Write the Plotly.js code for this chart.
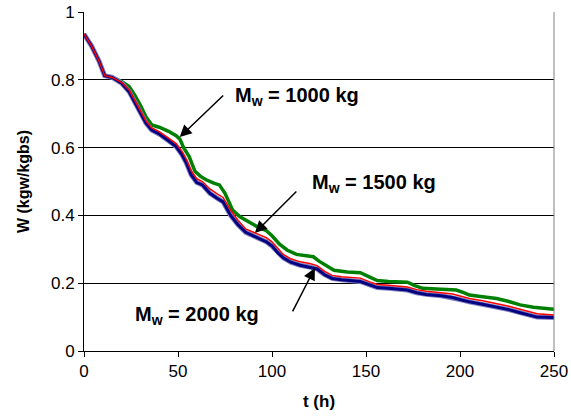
<!DOCTYPE html>
<html>
<head>
<meta charset="utf-8">
<script src="https://cdn.plot.ly/plotly-3.0.1.min.js"></script>
<style>html,body{margin:0;padding:0;background:#fff;}#chart{width:571px;height:417px;}</style>
</head>
<body>
<div id="chart"></div>
<script>
// Time (h) and moisture content W (kgw/kgbs) for three water masses
var tBlue = [0,4,8,11,15,20,24,27,30,33,36,40,45,49,52,54.5,57,60,63,67,71,74,78,82,86,92,97,100,103,106,110,115,120,124,128,132,137,142,147,152,156,162,168,172,177,182,190,196,200,205,212,219,226,232,237,241,250];
var wBlue = [0.935,0.90,0.855,0.812,0.807,0.79,0.765,0.735,0.705,0.672,0.652,0.64,0.62,0.603,0.58,0.554,0.52,0.497,0.49,0.465,0.45,0.44,0.40,0.372,0.35,0.335,0.322,0.31,0.29,0.275,0.262,0.253,0.248,0.242,0.225,0.214,0.21,0.208,0.205,0.195,0.187,0.185,0.183,0.18,0.172,0.167,0.163,0.158,0.152,0.145,0.138,0.131,0.122,0.113,0.105,0.10,0.099];

var tRed = tBlue;
var wRed = [0.935,0.90,0.855,0.812,0.807,0.792,0.77,0.74,0.71,0.678,0.658,0.647,0.628,0.612,0.59,0.565,0.532,0.508,0.50,0.478,0.463,0.453,0.415,0.385,0.36,0.347,0.334,0.322,0.302,0.285,0.272,0.263,0.258,0.252,0.235,0.223,0.219,0.217,0.215,0.204,0.196,0.194,0.192,0.189,0.181,0.176,0.172,0.168,0.162,0.155,0.148,0.141,0.132,0.123,0.115,0.110,0.106];

var tGreen = [0,4,8,11,15,20,24,27,30,33,36,40,45,49,51,53,56,59,62,65,69,72,75,79,83,88,92,97,100,104,108,113,117,122,125,129,133,140,147,152,156,162,168,172,176,180,190,198,202,205,212,219.5,226,232,239,244,250];
var wGreen = [0.935,0.90,0.855,0.812,0.808,0.795,0.78,0.755,0.725,0.69,0.667,0.66,0.648,0.635,0.625,0.60,0.573,0.53,0.515,0.505,0.495,0.49,0.465,0.416,0.396,0.38,0.367,0.355,0.34,0.315,0.298,0.285,0.282,0.278,0.265,0.25,0.238,0.233,0.231,0.218,0.208,0.205,0.204,0.203,0.193,0.185,0.182,0.18,0.172,0.165,0.16,0.155,0.146,0.136,0.129,0.126,0.123];

var xTicks = [0,50,100,150,200,250];
var yTicks = [0,0.2,0.4,0.6,0.8,1];
var yTickText = ['0','0.2','0.4','0.6','0.8','1'];

var labels = ['M<sub>w</sub> = 1000 kg','M<sub>w</sub> = 1500 kg','M<sub>w</sub> = 2000 kg'];

var traces = [
  {x: tGreen, y: wGreen, mode: 'lines', line: {color: '#008000', width: 3.5}, name: labels[0]},
  {x: tBlue, y: wBlue, mode: 'lines', line: {color: '#8080c0', width: 5}, name: 'halo', hoverinfo: 'skip'},
  {x: tBlue, y: wBlue, mode: 'lines', line: {color: '#000080', width: 3}, name: labels[2]},
  {x: tRed, y: wRed, mode: 'lines', line: {color: '#ff0000', width: 1.5}, name: labels[1]}
];

var afont = {family: 'Liberation Sans, Arial, sans-serif', size: 20, color: '#000'};
var annotations = [
  {x: 50.9, y: 0.631, ax: 45, ay: -43, text: '', showarrow: true, arrowhead: 2, arrowsize: 1.6, arrowwidth: 1.5, arrowcolor: '#000'},
  {x: 90.9, y: 0.348, ax: 43, ay: -43, text: '', showarrow: true, arrowhead: 2, arrowsize: 1.6, arrowwidth: 1.5, arrowcolor: '#000'},
  {x: 122.8, y: 0.245, ax: -23, ay: 45, text: '', showarrow: true, arrowhead: 2, arrowsize: 1.6, arrowwidth: 1.5, arrowcolor: '#000'},
  {x: 79.1, y: 0.752, text: '<b>' + labels[0] + '</b>', showarrow: false, xanchor: 'left', yanchor: 'middle', font: afont},
  {x: 120, y: 0.493, text: '<b>' + labels[1] + '</b>', showarrow: false, xanchor: 'left', yanchor: 'middle', font: afont},
  {x: 26.1, y: 0.106, text: '<b>' + labels[2] + '</b>', showarrow: false, xanchor: 'left', yanchor: 'middle', font: afont}
];

var layout = {
  width: 571, height: 417,
  margin: {l: 84, r: 17, t: 12, b: 66},
  paper_bgcolor: '#fff', plot_bgcolor: '#fff',
  showlegend: false,
  font: {family: 'Liberation Sans, Arial, sans-serif', size: 17, color: '#000'},
  xaxis: {
    range: [0, 250], tickvals: xTicks, ticks: 'outside', ticklen: 5, tickcolor: '#000',
    showline: true, linecolor: '#000', linewidth: 1, mirror: false, showgrid: false, zeroline: false,
    title: {text: '<b>t (h)</b>', font: {size: 17}, standoff: 14},
    tickfont: {size: 17}
  },
  yaxis: {
    range: [0, 1], tickvals: yTicks, ticktext: yTickText, ticks: 'outside', ticklen: 5, tickcolor: '#000',
    showline: true, linecolor: '#000', linewidth: 1, showgrid: true, gridcolor: '#000', gridwidth: 1, zeroline: false,
    title: {text: '<b>W (kgw/kgbs)</b>', font: {size: 16}, standoff: 17},
    tickfont: {size: 17}
  },
  shapes: [
    {type: 'line', xref: 'paper', yref: 'paper', x0: 1, x1: 1, y0: 0, y1: 1, line: {color: '#808080', width: 1}}
  ],
  annotations: annotations
};

Plotly.newPlot('chart', traces, layout, {staticPlot: true});
</script>
</body>
</html>
